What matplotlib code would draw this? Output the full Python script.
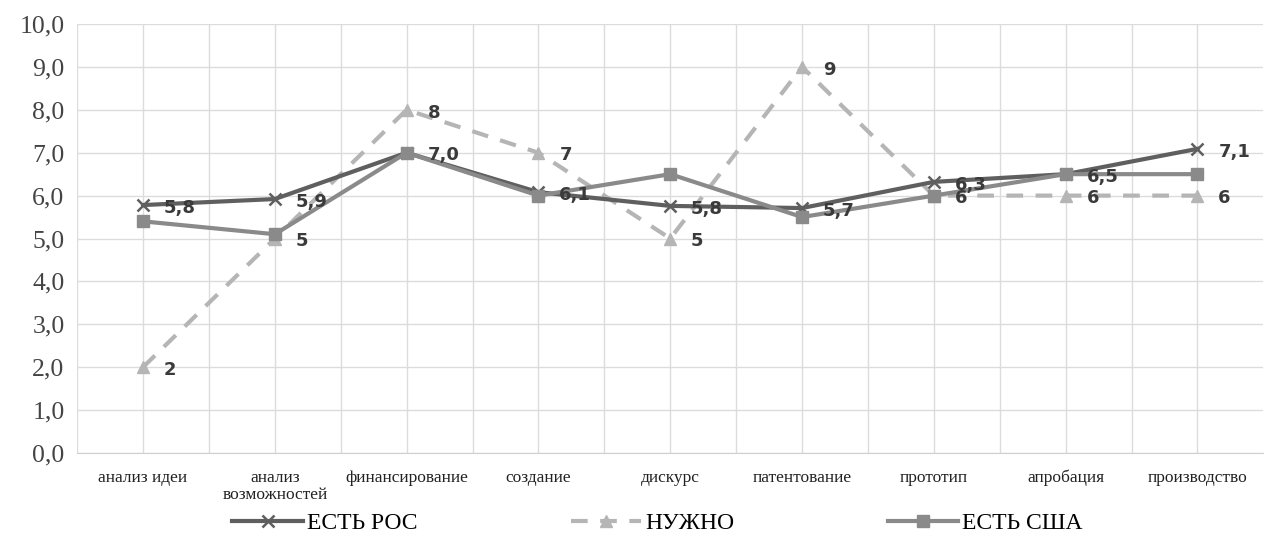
import matplotlib
matplotlib.use('Agg')
import matplotlib.pyplot as plt
from matplotlib.ticker import FuncFormatter

plt.rcParams['font.family'] = ['Liberation Serif', 'DejaVu Serif']

stages = ['анализ идеи', 'анализ\nвозможностей', 'финансирование', 'создание',
          'дискурс', 'патентование', 'прототип', 'апробация', 'производство']
est_ros = [5.78, 5.92, 7.0, 6.08, 5.76, 5.71, 6.32, 6.5, 7.09]
nuzhno = [2, 5, 8, 7, 5, 9, 6, 6, 6]
est_usa = [5.4, 5.1, 7.0, 6.0, 6.5, 5.5, 6.0, 6.5, 6.5]

c_ros = '#5f5f5f'
c_nuzh = '#b5b5b5'
c_usa = '#8a8a8a'
c_lab = '#3a3a3a'

fig = plt.figure(figsize=(12.64, 5.42), dpi=100)
ax = fig.add_axes([0.061, 0.1642, 0.9385, 0.7915])

x = list(range(len(stages)))
ax.plot(x, est_ros, '-', color=c_ros, lw=3, marker='x', ms=9, mew=1.8,
        label='ЕСТЬ РОС', zorder=4)
ax.plot(x, nuzhno, '--', color=c_nuzh, lw=3, dashes=(4, 3), marker='^', ms=8,
        label='НУЖНО', zorder=3)
ax.plot(x, est_usa, '-', color=c_usa, lw=3, marker='s', ms=9,
        label='ЕСТЬ США', zorder=4)

lab_font = ['DejaVu Sans']
for i, v in enumerate(est_ros):
    ax.annotate(f'{v:.1f}'.replace('.', ','), (i, v), xytext=(15, -2),
                textcoords='offset points', ha='left', va='center',
                fontsize=13, fontweight='bold', color=c_lab, family=lab_font,
                zorder=6)
for i, v in enumerate(nuzhno):
    ax.annotate(f'{v}', (i, v), xytext=(15, -2),
                textcoords='offset points', ha='left', va='center',
                fontsize=13, fontweight='bold', color=c_lab, family=lab_font,
                zorder=6)

ax.set_xlim(-0.5, len(stages) - 0.5)
ax.set_ylim(0, 10)
ax.set_yticks(range(0, 11))
ax.yaxis.set_major_formatter(FuncFormatter(lambda v, p: f'{v:.1f}'.replace('.', ',')))
ax.set_xticks(x)
ax.set_xticklabels(stages, fontsize=12.5, color='#222222', linespacing=1.15)
ax.set_xticks([i + 0.5 for i in x[:-1]] + [-0.5], minor=True)
ax.tick_params(axis='y', labelsize=18.5, colors='#444444', length=0, pad=9)
ax.tick_params(axis='x', length=0, pad=12)
ax.tick_params(axis='x', which='minor', length=0)
ax.grid(True, which='both', color='#dcdcdc', lw=1)
for s in ['top', 'right', 'left']:
    ax.spines[s].set_visible(False)
ax.spines['bottom'].set_color('#d0d0d0')
ax.set_axisbelow(True)

fig.legend(loc='lower center', bbox_to_anchor=(0.52, -0.025), ncol=3,
           frameon=False, fontsize=17, handlelength=3.0, columnspacing=6.5,
           handletextpad=0.15)

fig.savefig('out.png', dpi=100)
